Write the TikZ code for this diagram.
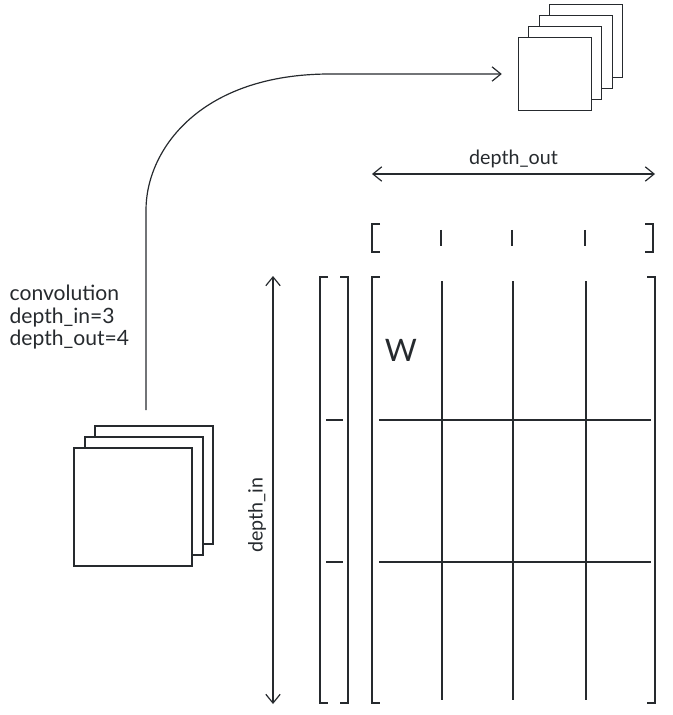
\documentclass[tikz,border=0pt]{standalone}
\usepackage{fontspec}
\setmainfont{Lato}
\usetikzlibrary{arrows.meta,positioning,calc}
\definecolor{skInk}{HTML}{262A2E}
\tikzset{
  pen/.style      ={draw=skInk,line width=0.85pt},
  sheet/.style    ={pen,fill=white,rectangle,inner sep=0pt},
  insheet/.style  ={sheet,minimum size=2.95cm},
  outsheet/.style ={sheet,minimum size=1.83cm},
  brk/.style      ={pen},
  grid/.style     ={pen},
  dimarrow/.style ={pen,{Straight Barb[length=2.2mm,width=3.6mm]}-{Straight Barb[length=2.2mm,width=3.6mm]}},
  flow/.style     ={pen,-{Straight Barb[length=2.2mm,width=3.6mm]}},
  lbl/.style      ={font=\fontsize{14}{19}\selectfont,text=skInk,inner sep=1pt},
}

\begin{document}
\begin{tikzpicture}[x=0.025cm,y=-0.025cm]
\useasboundingbox (0,0) rectangle (672,715);

% input feature maps (back to front)
\foreach \k/\cx/\cy in {3/154/485, 2/144/496, 1/133/507}
  \node[insheet] (in\k) at (\cx,\cy) {};

% output feature maps (back to front)
\foreach \k/\cx/\cy in {4/586/41, 3/576/52, 2/565/63, 1/555/74}
  \node[outsheet] (out\k) at (\cx,\cy) {};

\node[lbl,font=\fontsize{15}{16.2}\selectfont,anchor=north west,align=left] (conv) at (8,283)
  {convolution\\depth\_in=3\\depth\_out=4};

% the convolution arrow
\coordinate (start) at (146,410);
\coordinate (bendA) at (146,210);
\coordinate (bendB) at (330,74);
\draw[flow,shorten >=0.4cm] (start) -- (bendA)
  .. controls (146,150) and (200,74) .. (bendB) -- (out1.west);

% bias row
\draw[brk] (380,224) -- (372,224) -- (372,252) -- (380,252);
\draw[brk] (645,224) -- (653,224) -- (653,252) -- (645,252);
\foreach \x in {441,512,585}
  \draw[pen] (\x,230) -- (\x,246);

% depth_out
\coordinate (doL) at (372,174);
\coordinate (doR) at (655,174);
\draw[dimarrow] (doL) -- (doR) node[lbl,midway,above=3pt] (dout) {depth\_out};

% weight matrix
\draw[brk] (380,277) -- (372,277) -- (372,703) -- (380,703);
\draw[brk] (647,277) -- (655,277) -- (655,703) -- (647,703);
\foreach \x in {442,513,586}
  \draw[grid] (\x,281) -- (\x,700);
\foreach \y in {420,562}
  \draw[grid] (379,\y) -- (651,\y);
\node[lbl,font=\fontsize{22}{24}\selectfont] (W) at (401,350) {W};

% input vector
\draw[brk] (328,277) -- (320,277) -- (320,703) -- (328,703);
\draw[brk] (340,277) -- (348,277) -- (348,703) -- (340,703);
\foreach \y in {420,562}
  \draw[pen] (326,\y) -- (343,\y);

% depth_in
\coordinate (diT) at (273,276);
\coordinate (diB) at (273,704);
\draw[dimarrow] (diT) -- (diB);
\node[lbl,rotate=90] (din) at (257,515) {depth\_in};
\end{tikzpicture}
\end{document}
